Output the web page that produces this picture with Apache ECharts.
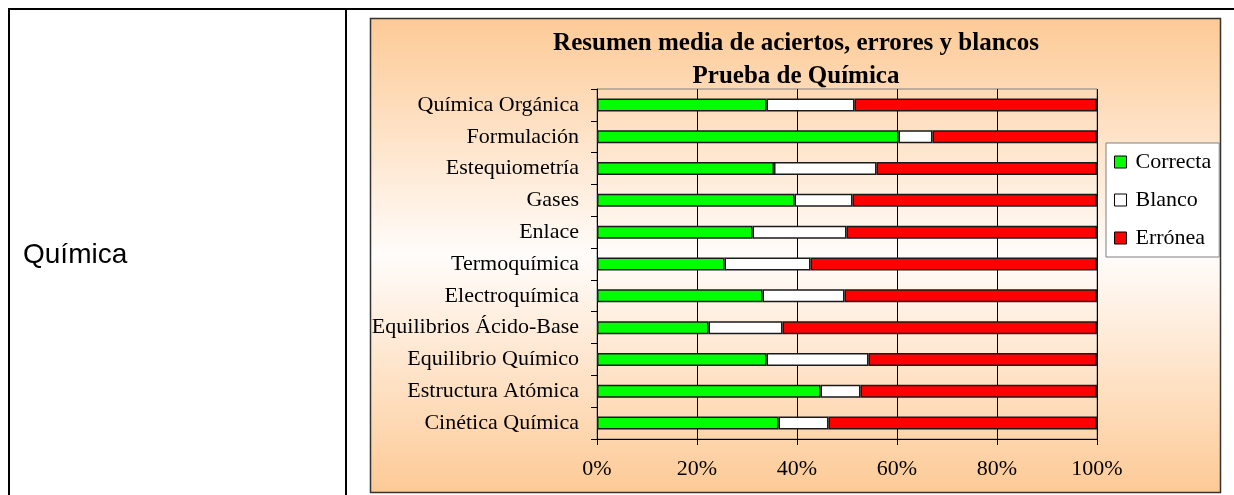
<!DOCTYPE html>
<html>
<head>
<meta charset="utf-8">
<title>Resumen media de aciertos, errores y blancos</title>
<script src="https://cdn.jsdelivr.net/npm/echarts@6/dist/echarts.min.js"></script>
<style>
    html, body { margin: 0; padding: 0; background: #ffffff; }
    #chart { width: 1234px; height: 495px; }
</style>
</head>
<body>
<div id="chart"></div>
<script>
// categorías de arriba abajo
const categories = [
    "Química Orgánica",
    "Formulación",
    "Estequiometría",
    "Gases",
    "Enlace",
    "Termoquímica",
    "Electroquímica",
    "Equilibrios Ácido-Base",
    "Equilibrio Químico",
    "Estructura Atómica",
    "Cinética Química"
];

// porcentajes
const correcta = [33.9, 60.3, 35.4, 39.5, 31.1, 25.5, 33.1, 22.3, 33.9, 44.7, 36.3];
const blanco   = [17.6, 6.8, 20.5, 11.6, 18.8, 17.2, 16.4, 14.8, 20.4, 8.0, 10.0];
const erronea  = [48.5, 32.9, 44.1, 48.9, 50.1, 57.3, 50.5, 62.9, 45.7, 47.3, 53.7];

const seriesNames = ["Correcta", "Blanco", "Errónea"];
const xTicks = [0, 20, 40, 60, 80, 100];

const serif = "'Liberation Serif', 'Times New Roman', serif";
const sans = "'Liberation Sans', Arial, sans-serif";
const colorEdge = "#1a1a1a";

/**
 * Crea una serie de barras apiladas
 * @param {string} name nombre de la serie
 * @param {number[]} data valores
 * @param {string} color color de relleno
 */
function stackSeries(name, data, color) {
    return {
        name: name,
        type: "bar",
        stack: "total",
        barWidth: 13,
        data: data,
        itemStyle: {
            color: color,
            borderColor: colorEdge,
            borderWidth: 1.5
        }
    };
}

const chart = echarts.init(document.getElementById("chart"), null, { renderer: "canvas" });

chart.setOption({
    animation: false,
    graphic: [
        // líneas de la tabla
        { type: "rect", z: -20, shape: { x: 8, y: 8, width: 1226, height: 2 }, style: { fill: "#000" } },
        { type: "rect", z: -20, shape: { x: 8, y: 8, width: 2, height: 487 }, style: { fill: "#000" } },
        { type: "rect", z: -20, shape: { x: 345, y: 8, width: 2, height: 487 }, style: { fill: "#000" } },
        {
            type: "text",
            z: -20,
            left: 23,
            top: 241,
            style: { text: "Química", fontFamily: sans, fontSize: 28, fill: "#000" }
        },
        // fondo del gráfico
        {
            type: "rect",
            z: -10,
            shape: { x: 370.5, y: 18.5, width: 850, height: 474 },
            style: {
                fill: new echarts.graphic.LinearGradient(0, 0, 0, 1, [
                    { offset: 0, color: "#fdca96" },
                    { offset: 0.5, color: "#fffcfa" },
                    { offset: 1, color: "#fdca96" }
                ]),
                stroke: "#333333",
                lineWidth: 1.5
            }
        }
    ],
    title: {
        text: "Resumen media de aciertos, errores y blancos\nPrueba de Química",
        left: 796,
        top: 27,
        padding: 0,
        textAlign: "center",
        textStyle: {
            fontFamily: serif,
            fontSize: 25,
            fontWeight: "bold",
            lineHeight: 33,
            color: "#000"
        }
    },
    legend: {
        orient: "vertical",
        left: 1106,
        top: 143,
        data: seriesNames,
        backgroundColor: "#ffffff",
        borderColor: "#808080",
        borderWidth: 1,
        padding: [8, 8, 8, 8],
        itemGap: 16,
        itemWidth: 12,
        itemHeight: 12,
        icon: "rect",
        itemStyle: { borderColor: "#000", borderWidth: 1 },
        textStyle: {
            fontFamily: serif,
            fontSize: 22,
            color: "#000",
            padding: [0, 0, 0, 4]
        },
        selectedMode: false
    },
    grid: {
        left: 597,
        top: 89,
        right: 137,
        bottom: 56,
        show: true,
        backgroundColor: "transparent",
        borderColor: "#808080",
        borderWidth: 1
    },
    xAxis: {
        type: "value",
        min: xTicks[0],
        max: xTicks[xTicks.length - 1],
        interval: 20,
        axisLine: { show: true, lineStyle: { color: "#000", width: 1 } },
        axisTick: { show: true, length: 6, lineStyle: { color: "#000" } },
        axisLabel: {
            formatter: "{value}%",
            margin: 19,
            fontFamily: serif,
            fontSize: 22,
            color: "#000"
        },
        splitLine: { show: true, lineStyle: { color: "#000", width: 1 } }
    },
    yAxis: {
        type: "category",
        inverse: true,
        data: categories,
        axisLine: { show: true, lineStyle: { color: "#000", width: 1 } },
        axisTick: { show: true, length: 6, lineStyle: { color: "#000" } },
        axisLabel: {
            margin: 18,
            fontFamily: serif,
            fontSize: 22,
            color: "#000"
        },
        splitLine: { show: false }
    },
    series: [
        stackSeries(seriesNames[0], correcta, "#00ff00"),
        stackSeries(seriesNames[1], blanco, "#ffffff"),
        stackSeries(seriesNames[2], erronea, "#ff0000")
    ]
});
</script>
</body>
</html>
